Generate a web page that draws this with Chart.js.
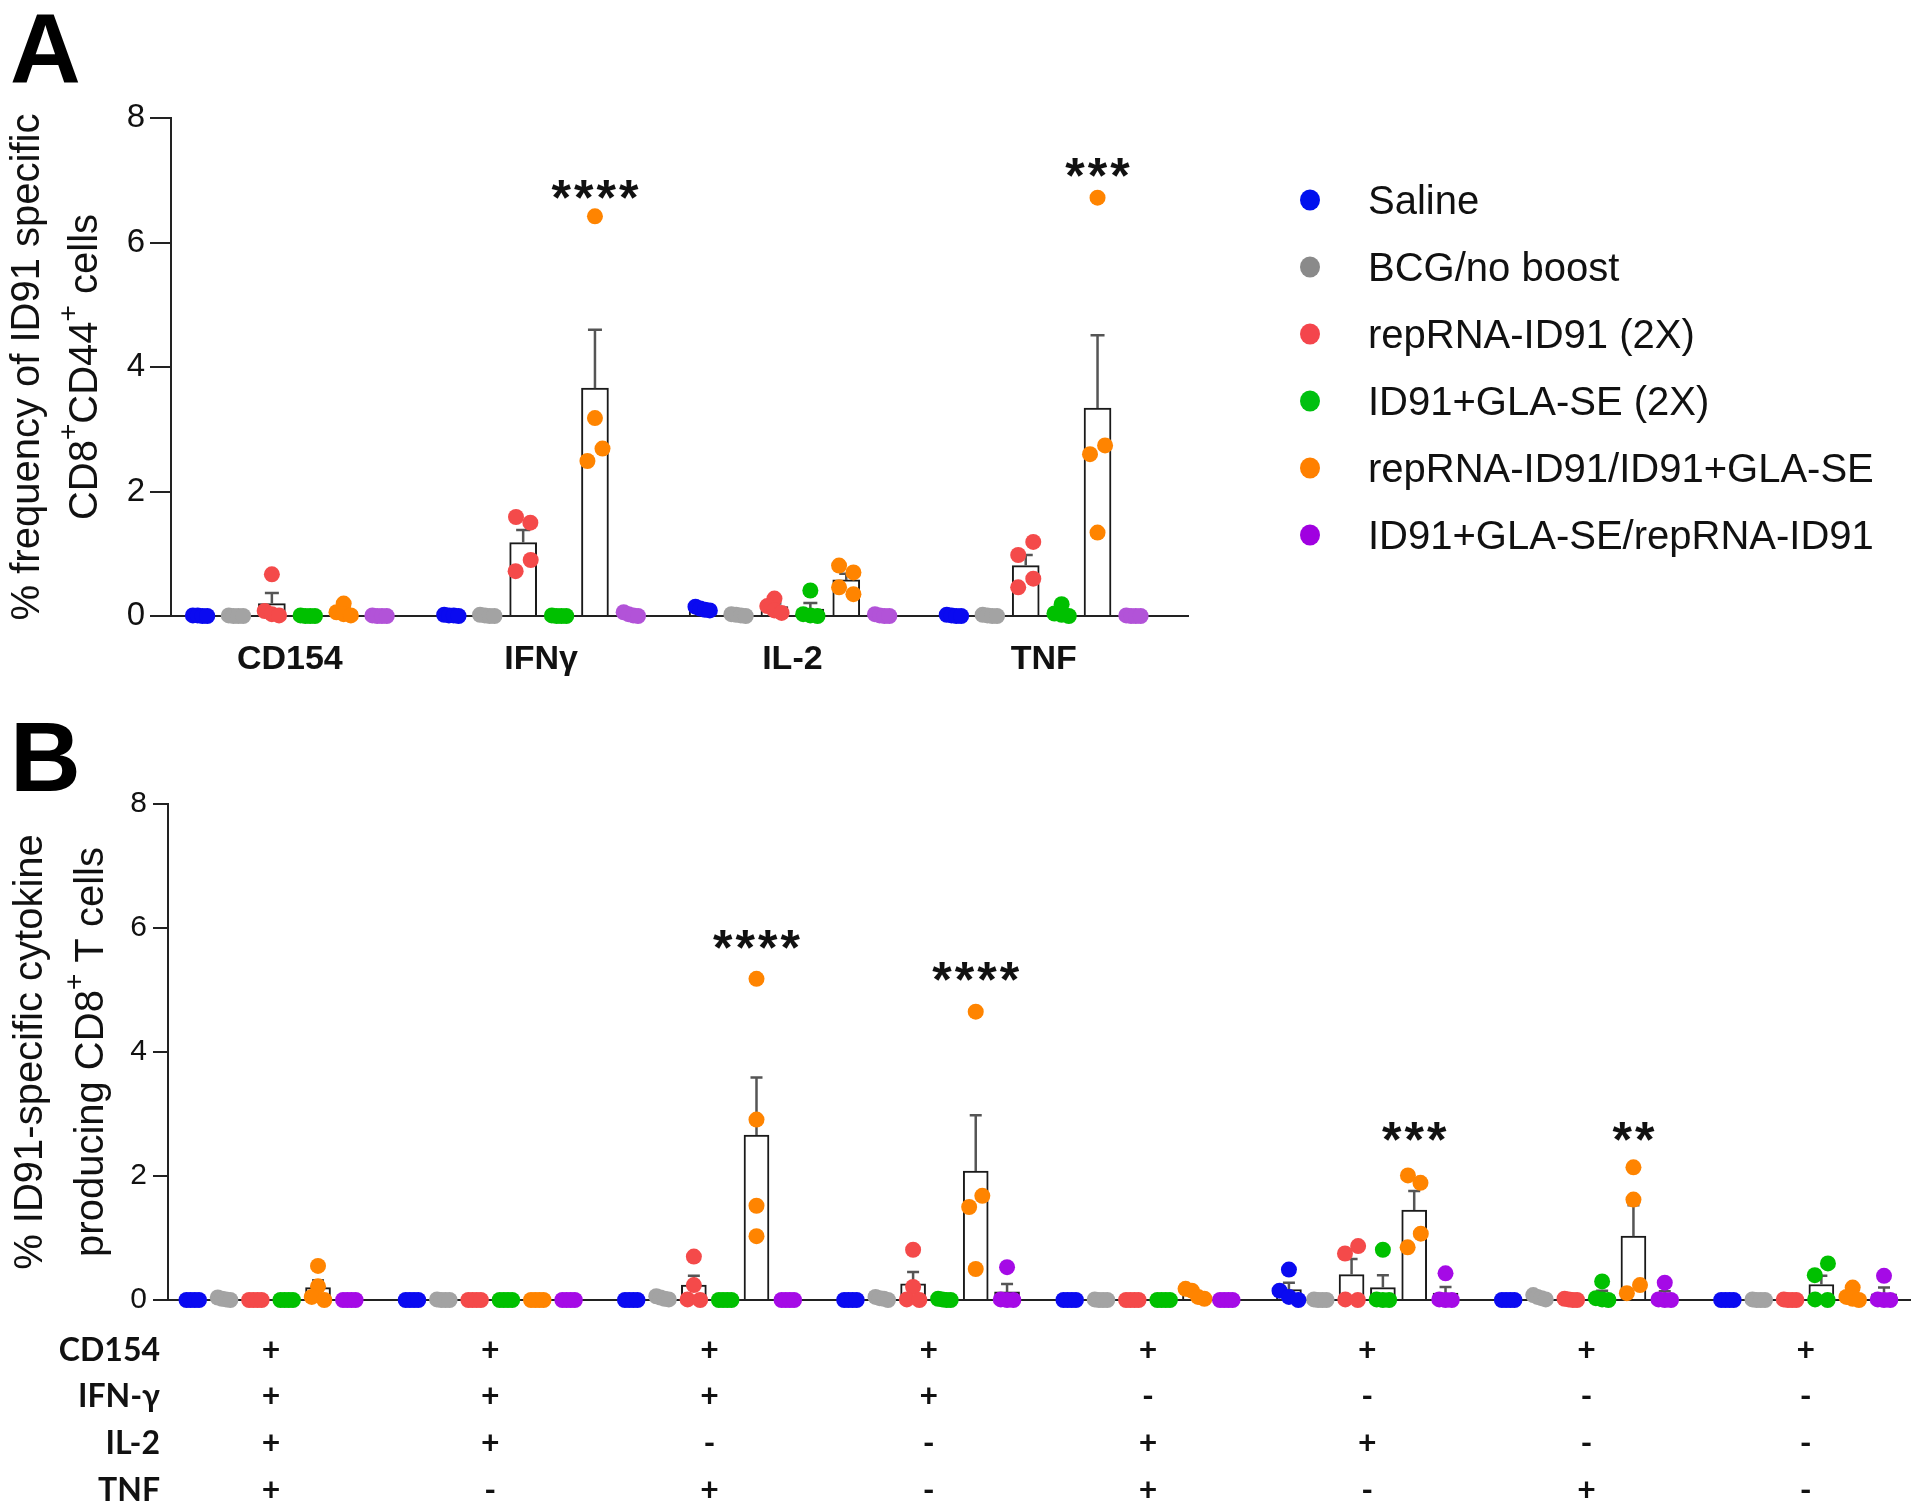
<!DOCTYPE html>
<html>
<head>
<meta charset="utf-8">
<script src="https://cdn.jsdelivr.net/npm/chart.js@4.4.0/dist/chart.umd.min.js"></script>
<style>
  html, body { margin: 0; padding: 0; background: #fff; }
  #wrap { position: relative; width: 1920px; height: 1512px; }
  canvas { position: absolute; left: 0; }
</style>
</head>
<body>
<div id="wrap">
  <canvas id="chartA" width="1920" height="700" style="top:0"></canvas>
  <canvas id="chartB" width="1920" height="812" style="top:700px"></canvas>
</div>
<script>
// groups (same order in both panels)
const groups = ['Saline', 'BCG/no boost', 'repRNA-ID91 (2X)', 'ID91+GLA-SE (2X)', 'repRNA-ID91/ID91+GLA-SE', 'ID91+GLA-SE/repRNA-ID91'];
const yTicks = [0, 2, 4, 6, 8];

// ---- panel A : single cytokines ----
const cytokinesA = ['CD154', 'IFNγ', 'IL-2', 'TNF'];
// one list of mice per cytokine
const salineA  = [[0.01, 0, 0, 0.01], [0.02, 0.01, 0, 0.01], [0.15, 0.12, 0.1, 0.09], [0.02, 0.01, 0, 0]];
const bcgA     = [[0.01, 0, 0, 0], [0.02, 0.01, 0, 0], [0.03, 0.02, 0.01, 0], [0.02, 0.01, 0, 0]];
const repRnaA  = [[0.67, 0.08, 0.03, 0.01], [1.59, 1.50, 0.90, 0.72], [0.28, 0.16, 0.09, 0.05], [1.19, 0.98, 0.60, 0.46]];
const glaA     = [[0.01, 0, 0, 0], [0.01, 0, 0, 0], [0.41, 0.03, 0.01, 0], [0.19, 0.04, 0.02, 0]];
const primeA   = [[0.20, 0.06, 0.03, 0.01], [6.42, 3.18, 2.69, 2.49], [0.81, 0.70, 0.46, 0.35], [6.72, 2.74, 2.60, 1.34]];
const reverseA = [[0.01, 0, 0, 0], [0.06, 0.03, 0.01, 0], [0.03, 0.01, 0, 0], [0.01, 0, 0, 0]];
// bar heights (mean) and error bars (SEM), group x cytokine
const meanA = [[0.01, 0.01, 0.11, 0.01], [0, 0.01, 0.02, 0.01], [0.20, 1.18, 0.15, 0.81], [0, 0, 0.11, 0.06], [0.08, 3.66, 0.58, 3.34], [0, 0.02, 0.01, 0]];
const semA  = [[0, 0, 0.02, 0], [0, 0, 0, 0], [0.17, 0.20, 0.05, 0.17], [0, 0, 0.10, 0.04], [0.04, 0.94, 0.10, 1.17], [0, 0, 0, 0]];
const starsA = ['', '****', '', '***'];
const starLevelA = [0, 6.90, 0, 7.26];

// ---- panel B : cytokine combinations ----
const rowNamesB = ['CD154', 'IFN-γ', 'IL-2', 'TNF'];
const cd154B = ['+', '+', '+', '+', '+', '+', '+', '+'];
const ifngB  = ['+', '+', '+', '+', '-', '-', '-', '-'];
const il2B   = ['+', '+', '-', '-', '+', '+', '-', '-'];
const tnfB   = ['+', '-', '+', '-', '+', '-', '+', '-'];
const salineB  = [[0,0,0,0],[0,0,0,0],[0,0,0,0],[0,0,0,0],[0,0,0,0],[0.49,0.15,0.05,0],[0,0,0,0],[0,0,0,0]];
const bcgB     = [[0.04,0.02,0.01,0],[0.01,0,0,0],[0.06,0.04,0.02,0.01],[0.05,0.03,0.02,0],[0.01,0,0,0],[0.01,0,0,0],[0.08,0.05,0.03,0.01],[0.01,0,0,0]];
const repRnaB  = [[0,0,0,0],[0,0,0,0],[0.70,0.24,0.01,0],[0.81,0.21,0.01,0],[0,0,0,0],[0.87,0.75,0.01,0],[0.02,0.01,0,0],[0.01,0,0,0]];
const glaB     = [[0,0,0,0],[0,0,0,0],[0,0,0,0],[0.02,0.01,0,0],[0,0,0,0],[0.81,0.01,0,0],[0.30,0.03,0.01,0],[0.59,0.40,0.01,0]];
const primeB   = [[0.55,0.22,0.05,0],[0,0,0,0],[5.18,2.91,1.52,1.03],[4.65,1.68,1.50,0.50],[0.18,0.15,0.05,0.02],[2.01,1.89,1.07,0.85],[2.14,1.62,0.24,0.11],[0.20,0.05,0.02,0]];
const reverseB = [[0,0,0,0],[0,0,0,0],[0,0,0,0],[0.53,0.01,0,0],[0,0,0,0],[0.43,0.01,0,0],[0.28,0.01,0,0],[0.39,0.01,0,0]];
const meanB = [
  [0, 0, 0, 0, 0, 0.17, 0, 0],
  [0.02, 0, 0.03, 0.03, 0, 0, 0.04, 0],
  [0, 0, 0.24, 0.26, 0, 0.41, 0.01, 0],
  [0, 0, 0, 0.01, 0, 0.20, 0.08, 0.25],
  [0.20, 0, 2.66, 2.08, 0.10, 1.45, 1.03, 0.07],
  [0, 0, 0, 0.13, 0, 0.11, 0.07, 0.10]
];
const semB = [
  [0, 0, 0, 0, 0, 0.11, 0, 0],
  [0, 0, 0, 0, 0, 0, 0, 0],
  [0, 0, 0.15, 0.19, 0, 0.25, 0, 0],
  [0, 0, 0, 0, 0, 0.20, 0.07, 0.14],
  [0.12, 0, 0.93, 0.90, 0.04, 0.31, 0.50, 0.05],
  [0, 0, 0, 0.13, 0, 0.10, 0.07, 0.10]
];
const starsB = ['', '', '****', '****', '', '***', '**', ''];
const starLevelB = [0, 0, 5.86, 5.35, 0, 2.76, 2.76, 0];

// ---- styling ----
const FONT = "'Liberation Sans', Arial, sans-serif";
const STEP = 7;            // slots per cytokine block (6 groups + gap)
const colorsA = ['#0a0af0', '#a3a3a3', '#f44a4a', '#00c000', '#ff8400', '#b253d8'];
const colorsB = ['#0a0af0', '#a3a3a3', '#f44a4a', '#00c000', '#ff8400', '#a50ae6'];
const legendColors = ['#0010ee', '#8a8a8a', '#f4454c', '#00c010', '#ff8000', '#a000e0'];

Chart.defaults.font.family = FONT;
Chart.defaults.color = '#111';

// spread mice that would overlap sideways, roughly like GraphPad does
function placeCluster(vals, idx, slot, out) {
  const n = idx.length;
  if (n === 1) { out.push({ x: slot, y: vals[idx[0]] }); return; }
  const range = vals[idx[0]] - vals[idx[n - 1]];
  if (range < 0.12) {
    const step = 0.4 / (n - 1);
    idx.forEach((i, k) => out.push({ x: slot + (k - (n - 1) / 2) * step, y: vals[i] }));
    return;
  }
  if (n === 2) {
    // higher one to the right
    out.push({ x: slot + 0.21, y: vals[idx[0]] });
    out.push({ x: slot - 0.21, y: vals[idx[1]] });
    return;
  }
  if (vals[idx[0]] - vals[idx[1]] > 0.1) {
    out.push({ x: slot, y: vals[idx[0]] });
    placeCluster(vals, idx.slice(1), slot, out);
    return;
  }
  const step = 0.6 / (n - 1);
  idx.forEach((i, k) => out.push({ x: slot + (k - (n - 1) / 2) * step, y: vals[i] }));
}

function jitter(vals, slot) {
  const order = vals.map((v, i) => i).sort((a, b) => vals[b] - vals[a]);
  const clusters = [];
  let cur = [];
  order.forEach(i => {
    if (cur.length && vals[cur[cur.length - 1]] - vals[i] > 0.23) { clusters.push(cur); cur = []; }
    cur.push(i);
  });
  if (cur.length) clusters.push(cur);
  const out = [];
  clusters.forEach(cl => placeCluster(vals, cl, slot, out));
  return out;
}

function scatterSets(groupVals, colors) {
  return groupVals.map((perCat, g) => ({
    type: 'scatter',
    label: groups[g],
    data: perCat.flatMap((vals, c) => jitter(vals, c * STEP + g)),
    backgroundColor: colors[g],
    borderWidth: 0,
    pointRadius: 8,
    pointHoverRadius: 8,
    clip: false,
    order: 1
  }));
}

function barSet(means, sems, thickness) {
  const data = [], sem = [];
  means.forEach((perCat, g) => perCat.forEach((m, c) => {
    data.push({ x: c * STEP + g, y: m });
    sem.push(sems[g][c]);
  }));
  return {
    type: 'bar', label: 'mean', data, sem,
    backgroundColor: '#ffffff', borderColor: '#1a1a1a', borderWidth: 2,
    barThickness: thickness, order: 3
  };
}

// SEM whiskers, drawn right after the bars so the dots sit on top
const errorBars = {
  id: 'errorBars',
  afterDatasetDraw(chart, args) {
    const ds = chart.data.datasets[args.index];
    if (!ds.sem) return;
    const { ctx } = chart;
    const xs = chart.scales.x, ys = chart.scales.y;
    const cap = chart.options.plugins.errorBars.cap;
    ctx.save();
    ctx.strokeStyle = '#555';
    ctx.lineWidth = 2.5;
    ds.data.forEach((p, i) => {
      const s = ds.sem[i];
      if (!s || s < 0.005) return;
      const px = xs.getPixelForValue(p.x);
      const y0 = ys.getPixelForValue(p.y), y1 = ys.getPixelForValue(p.y + s);
      ctx.beginPath();
      ctx.moveTo(px, y0); ctx.lineTo(px, y1);
      ctx.moveTo(px - cap, y1); ctx.lineTo(px + cap, y1);
      ctx.stroke();
    });
    ctx.restore();
  }
};

function drawRotatedRich(ctx, segs, cx, cy, size) {
  ctx.save();
  ctx.translate(cx, cy);
  ctx.rotate(-Math.PI / 2);
  ctx.textBaseline = 'middle';
  ctx.fillStyle = '#111';
  let total = 0;
  segs.forEach(s => {
    ctx.font = (s.sup ? Math.round(size * 0.7) : size) + 'px ' + FONT;
    s.w = ctx.measureText(s.t).width;
    total += s.w;
  });
  let x = -total / 2;
  segs.forEach(s => {
    ctx.font = (s.sup ? Math.round(size * 0.7) : size) + 'px ' + FONT;
    ctx.fillText(s.t, x, s.sup ? -size * 0.42 : 0);
    x += s.w;
  });
  ctx.restore();
}

function drawStars(chart, stars, levels) {
  const { ctx } = chart;
  const xs = chart.scales.x, ys = chart.scales.y;
  ctx.save();
  ctx.font = 'bold 50px ' + FONT;
  ctx.letterSpacing = '3px';
  ctx.textAlign = 'center';
  ctx.textBaseline = 'alphabetic';
  ctx.fillStyle = '#111';
  stars.forEach((s, c) => {
    if (!s) return;
    ctx.fillText(s, xs.getPixelForValue(c * STEP + 4) + 1.5, ys.getPixelForValue(levels[c]) + 0.57 * 50);
  });
  ctx.restore();
}

function panelLetter(ctx, letter, x, baseline) {
  ctx.save();
  ctx.font = 'bold 98px ' + FONT;
  ctx.fillStyle = '#000';
  ctx.textBaseline = 'alphabetic';
  ctx.fillText(letter, x, baseline);
  ctx.restore();
}

function yAxisOpts(width, tickLen, pad, size) {
  return {
    type: 'linear', min: 0, max: 8,
    afterBuildTicks: s => { s.ticks = yTicks.map(v => ({ value: v })); },
    afterFit: s => { s.width = width; },
    grid: { drawOnChartArea: false, drawTicks: true, tickLength: tickLen, color: '#222', lineWidth: 2 },
    border: { display: true, color: '#222', width: 2 },
    ticks: { font: { size: size }, color: '#111', padding: pad }
  };
}

// ---------- panel A ----------
const decorA = {
  id: 'decorA',
  afterDraw(chart) {
    const { ctx, chartArea } = chart;
    const cy = (chartArea.top + chartArea.bottom) / 2;
    drawRotatedRich(ctx, [{ t: '% frequency of ID91 specific' }], 28, cy, 40);
    drawRotatedRich(ctx, [{ t: 'CD8' }, { t: '+', sup: true }, { t: 'CD44' }, { t: '+', sup: true }, { t: ' cells' }], 86, cy, 40);
    drawStars(chart, starsA, starLevelA);
    panelLetter(ctx, 'A', 10, 82);
    // legend
    ctx.save();
    ctx.font = '40px ' + FONT;
    ctx.textBaseline = 'alphabetic';
    groups.forEach((name, i) => {
      const y = 200 + i * 67;
      ctx.fillStyle = legendColors[i];
      ctx.beginPath();
      ctx.ellipse(1310, y, 10, 10.5, 0, 0, Math.PI * 2);
      ctx.fill();
      ctx.fillStyle = '#111';
      ctx.fillText(name, 1368, y + 14);
    });
    ctx.restore();
  }
};

new Chart(document.getElementById('chartA'), {
  type: 'bar',
  data: {
    datasets: [barSet(meanA, semA, 27)].concat(
      scatterSets([salineA, bcgA, repRnaA, glaA, primeA, reverseA], colorsA))
  },
  options: {
    responsive: false,
    animation: false,
    events: [],
    layout: { padding: { top: 118, right: 732, bottom: 0, left: 0 } },
    plugins: { legend: { display: false }, tooltip: { enabled: false }, errorBars: { cap: 7 } },
    scales: {
      x: {
        type: 'linear', min: -0.81, max: 27.52, offset: false,
        afterBuildTicks: s => { s.ticks = cytokinesA.map((_, c) => ({ value: c * STEP + 2.5 })); },
        afterFit: s => { s.height = 84; },
        grid: { display: false, drawTicks: false },
        border: { display: true, color: '#222', width: 2 },
        ticks: {
          callback: (v, i) => cytokinesA[i],
          autoSkip: false, maxRotation: 0, minRotation: 0,
          font: { size: 34, weight: 'bold' }, color: '#111', padding: 23
        }
      },
      y: yAxisOpts(171, 21, 5, 33)
    }
  },
  plugins: [errorBars, decorA]
});

// ---------- panel B ----------
const TABLE_FONT = "Lato, 'Liberation Sans', sans-serif";
const TABLE_LH = 46.7;
const TABLE_PAD = 27;

const decorB = {
  id: 'decorB',
  afterDraw(chart) {
    const { ctx, chartArea } = chart;
    const cy = (chartArea.top + chartArea.bottom) / 2;
    drawRotatedRich(ctx, [{ t: '% ID91-specific cytokine' }], 31, cy, 40);
    drawRotatedRich(ctx, [{ t: 'producing CD8' }, { t: '+', sup: true }, { t: ' T cells' }], 92, cy, 40);
    drawStars(chart, starsB, starLevelB);
    panelLetter(ctx, 'B', 10, 91);
    // row headers of the +/- table
    const xs = chart.scales.x;
    ctx.save();
    ctx.font = 'bold 32px ' + TABLE_FONT;
    ctx.fillStyle = '#111';
    ctx.textAlign = 'right';
    ctx.textBaseline = 'middle';
    rowNamesB.forEach((r, i) => {
      ctx.fillText(r, 160, xs.top + TABLE_PAD + TABLE_LH / 2 + i * TABLE_LH);
    });
    ctx.restore();
  }
};

new Chart(document.getElementById('chartB'), {
  type: 'bar',
  data: {
    datasets: [barSet(meanB, semB, 25)].concat(
      scatterSets([salineB, bcgB, repRnaB, glaB, primeB, reverseB], colorsB))
  },
  options: {
    responsive: false,
    animation: false,
    events: [],
    layout: { padding: { top: 104, right: 10, bottom: 0, left: 0 } },
    plugins: { legend: { display: false }, tooltip: { enabled: false }, errorBars: { cap: 6 } },
    scales: {
      x: {
        type: 'linear', min: -0.79, max: 54.83, offset: false,
        afterBuildTicks: s => { s.ticks = cd154B.map((_, c) => ({ value: c * STEP + 2.5 })); },
        afterFit: s => { s.height = 212; },
        grid: { display: false, drawTicks: false },
        border: { display: true, color: '#222', width: 2 },
        ticks: {
          callback: (v, i) => [cd154B[i], ifngB[i], il2B[i], tnfB[i]],
          autoSkip: false, maxRotation: 0, minRotation: 0,
          font: { size: 32, weight: 'bold', family: TABLE_FONT, lineHeight: TABLE_LH / 32 },
          color: '#111', padding: TABLE_PAD
        }
      },
      y: yAxisOpts(168, 15, 6, 30)
    }
  },
  plugins: [errorBars, decorB]
});
</script>
</body>
</html>
